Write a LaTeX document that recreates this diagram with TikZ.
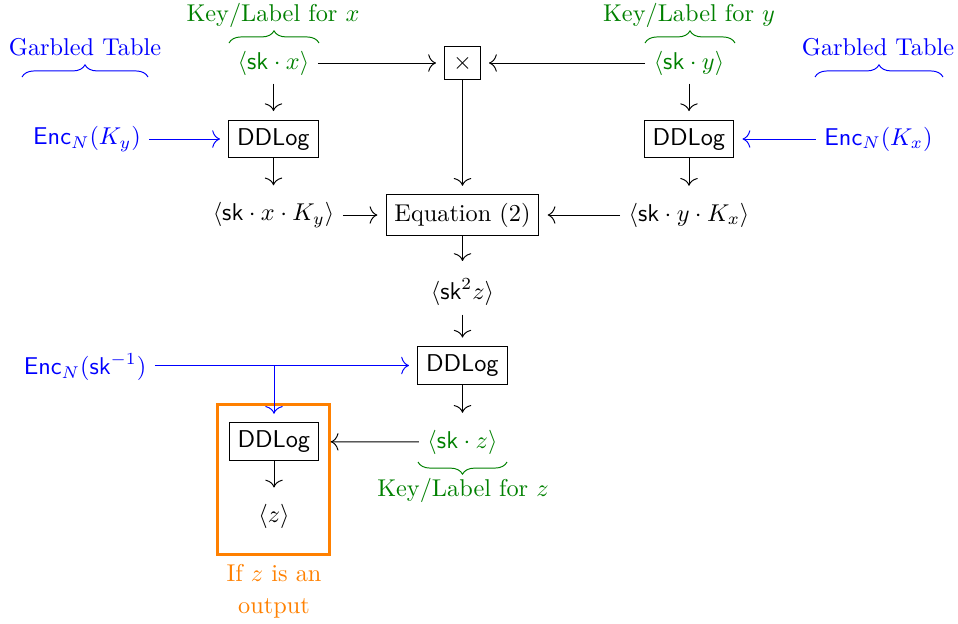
\documentclass[tikz,border=0pt]{standalone}
\usetikzlibrary{decorations.pathreplacing,arrows.meta}
\definecolor{keygreen}{rgb}{0,0.5,0}
\definecolor{outorange}{rgb}{1,0.5,0}
\begin{document}
\begin{tikzpicture}[x=0.4115pt,y=-0.4115pt,
  box/.style={draw, inner sep=3.33pt, line width=0.4pt},
  txt/.style={inner sep=3.33pt},
  key/.style={txt, text=keygreen},
  enc/.style={txt, text=blue},
  arr/.style={-{Computer Modern Rightarrow[length=3.2pt,width=7.2pt]}, line width=0.4pt, shorten >=3.5pt},
  encarr/.style={arr, draw=blue},
  brace/.style={decorate, decoration={brace, amplitude=5pt}},
  keybrace/.style={brace, draw=keygreen},
  tablebrace/.style={brace, draw=blue},
]
\useasboundingbox (0,0) rectangle (958,623);

% inputs x and y
\node[key] (kx) at (273.5,63) {$\langle\mathsf{sk}\cdot x\rangle$};
\node[key] (ky) at (689,63) {$\langle\mathsf{sk}\cdot y\rangle$};
\node[box] (times) at (462.5,63) {$\times$};

% labels above the inputs
\node[text=keygreen] (klx) at (273,15) {Key/Label for $x$};
\node[text=keygreen] (kly) at (689,15) {Key/Label for $y$};
\draw[keybrace] (229,43) -- (319,43);
\draw[keybrace] (645,43) -- (735,43);

% garbled tables
\node[text=blue] (gtl) at (85,47) {Garbled Table};
\node[text=blue] (gtr) at (878,47) {Garbled Table};
\draw[tablebrace] (22,77) -- (148,77);
\draw[tablebrace] (815,77) -- (943,77);

% first DDLog layer
\node[enc] (encky) at (87,139) {$\mathsf{Enc}_N(K_y)$};
\node[box] (ddl1) at (273.5,139) {$\mathsf{DDLog}$};
\node[box] (ddl2) at (689,139) {$\mathsf{DDLog}$};
\node[enc] (enckx) at (878.5,139) {$\mathsf{Enc}_N(K_x)$};

% products combined by Equation (2)
\node[txt] (sxky) at (273.5,215) {$\langle\mathsf{sk}\cdot x\cdot K_y\rangle$};
\node[box] (eq) at (462.5,215) {Equation (2)};
\node[txt] (sykx) at (689,215) {$\langle\mathsf{sk}\cdot y\cdot K_x\rangle$};
\node[txt] (sk2z) at (462.5,292) {$\langle\mathsf{sk}^2z\rangle$};

% second DDLog layer
\node[enc] (encsk) at (85,367) {$\mathsf{Enc}_N(\mathsf{sk}^{-1})$};
\node[box] (ddl3) at (462.5,365.5) {$\mathsf{DDLog}$};
\node[key] (skz) at (462.5,442) {$\langle\mathsf{sk}\cdot z\rangle$};
\node[text=keygreen] (klz) at (463,490) {Key/Label for $z$};
\draw[keybrace] (507,462) -- (418,462);

% output decoding
\node[box] (ddl4) at (274,441.7) {$\mathsf{DDLog}$};
\node[txt] (zz) at (274,516.7) {$\langle z\rangle$};
\node[draw=outorange, line width=1.2pt, minimum width=46.1pt, minimum height=61.5pt, inner sep=0pt] (outbox) at (273.2,479.5) {};
\node[text=outorange, align=center, inner sep=0pt] (iflbl) at (274,591) {If $z$ is an\\[1pt]output};

% connectors
\draw[arr] (kx) -- (times);
\draw[arr] (ky) -- (times);
\draw[arr] (times) -- (eq);
\draw[arr] (kx) -- (ddl1);
\draw[arr] (ky) -- (ddl2);
\draw[encarr] (encky) -- (ddl1);
\draw[encarr] (enckx) -- (ddl2);
\draw[arr] (ddl1) -- (sxky);
\draw[arr] (ddl2) -- (sykx);
\draw[arr] (sxky) -- (eq);
\draw[arr] (sykx) -- (eq);
\draw[arr] (eq) -- (sk2z);
\draw[arr] (sk2z) -- (ddl3);
\draw[arr] (ddl3) -- (skz);
\coordinate (split) at (ddl4 |- ddl3);
\draw[encarr] (encsk.east |- ddl3) -- (ddl3);
\draw[encarr] (split) -- (ddl4);
\draw[arr, shorten >=4.8pt] (skz) -- (ddl4);
\draw[arr] (ddl4) -- (zz);
\end{tikzpicture}
\end{document}
